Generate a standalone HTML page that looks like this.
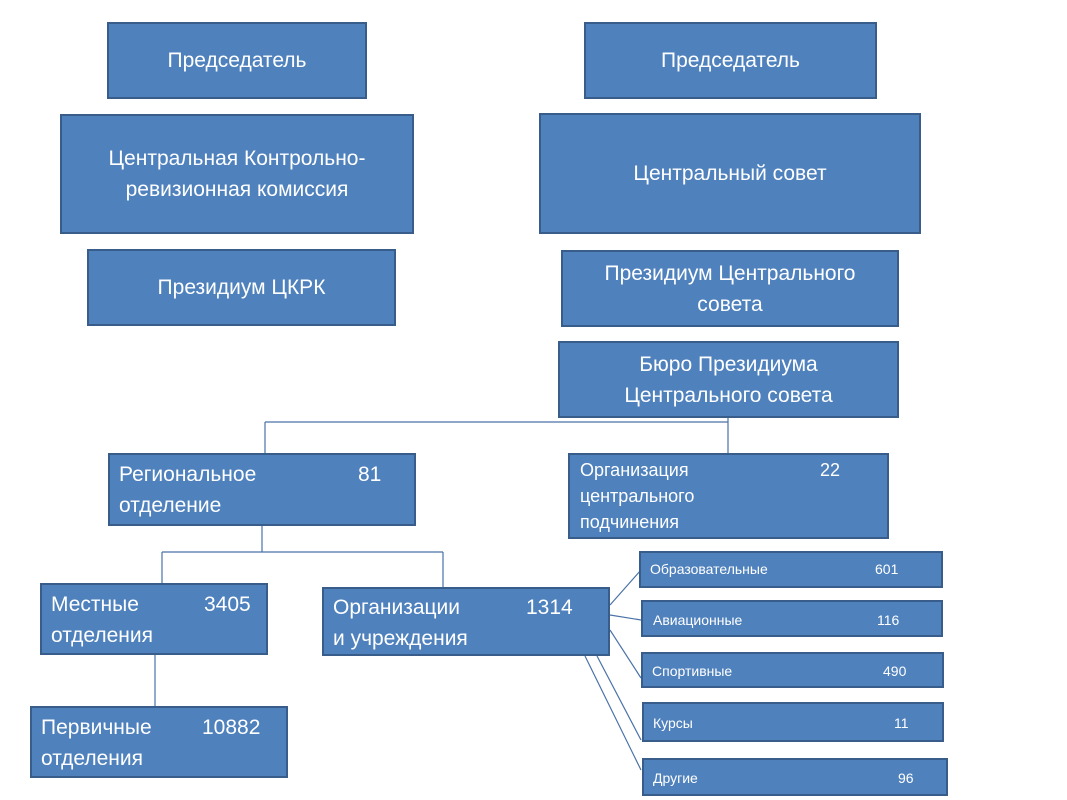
<!DOCTYPE html>
<html><head><meta charset="utf-8"><style>
body{margin:0;width:1067px;height:800px;background:#fff;position:relative;overflow:hidden;font-family:"Liberation Sans","DejaVu Sans",sans-serif;}
.b{position:absolute;box-sizing:border-box;background:#4f81bd;border:2px solid #385d8a;color:#fff;font-size:21px;line-height:31px;}
.c{display:flex;align-items:center;justify-content:center;text-align:center;}
.n{position:absolute;}
.s{font-size:14px;}
svg{position:absolute;left:0;top:0;}
</style></head><body>
<svg width="1067" height="800">
<g stroke="#4a72a8" stroke-width="1.2" fill="none">
<path d="M265 422H728M265 422V453M728 418V453"/>
<path d="M262 526V552M162 552H443M162 552V583M443 552V587"/>
<path d="M155 655V706"/>
<path d="M610 605L641 570M610 615L641 620M610 630L641 678M597 656L641 740M585 656L641 770"/>
</g></svg>
<div class="b c" style="left:107px;top:22px;width:260px;height:77px">Председатель</div>
<div class="b c" style="left:60px;top:114px;width:354px;height:120px">Центральная Контрольно-<br>ревизионная комиссия</div>
<div class="b c" style="left:87px;top:249px;width:309px;height:77px">Президиум ЦКРК</div>
<div class="b c" style="left:584px;top:22px;width:293px;height:77px">Председатель</div>
<div class="b c" style="left:539px;top:113px;width:382px;height:121px">Центральный совет</div>
<div class="b c" style="left:561px;top:250px;width:338px;height:77px">Президиум Центрального<br>совета</div>
<div class="b c" style="left:558px;top:341px;width:341px;height:77px">Бюро Президиума<br>Центрального совета</div>
<div class="b" style="left:108px;top:453px;width:308px;height:73px;padding:4px 0 0 9px">Региональное<br>отделение<span class="n" style="left:248px;top:4px">81</span></div>
<div class="b" style="left:568px;top:453px;width:321px;height:86px;padding:2px 0 0 10px;font-size:18px;line-height:26px">Организация<br>центрального<br>подчинения<span class="n" style="left:250px;top:2px">22</span></div>
<div class="b" style="left:40px;top:583px;width:228px;height:72px;padding:4px 0 0 9px">Местные<br>отделения<span class="n" style="left:162px;top:4px">3405</span></div>
<div class="b" style="left:322px;top:587px;width:288px;height:69px;padding:3px 0 0 9px">Организации<br>и учреждения<span class="n" style="left:202px;top:3px">1314</span></div>
<div class="b" style="left:30px;top:706px;width:258px;height:72px;padding:4px 0 0 9px">Первичные<br>отделения<span class="n" style="left:170px;top:4px">10882</span></div>
<div class="b s" style="left:639px;top:551px;width:304px;height:37px;line-height:33px;padding-left:9px">Образовательные<span class="n" style="left:234px;top:0">601</span></div>
<div class="b s" style="left:641px;top:600px;width:302px;height:37px;line-height:36px;padding-left:10px">Авиационные<span class="n" style="left:234px;top:0">116</span></div>
<div class="b s" style="left:641px;top:652px;width:303px;height:36px;line-height:34px;padding-left:9px">Спортивные<span class="n" style="left:240px;top:0">490</span></div>
<div class="b s" style="left:642px;top:702px;width:302px;height:40px;line-height:38px;padding-left:9px">Курсы<span class="n" style="left:250px;top:0">11</span></div>
<div class="b s" style="left:642px;top:758px;width:306px;height:38px;line-height:36px;padding-left:9px">Другие<span class="n" style="left:254px;top:0">96</span></div>
</body></html>
